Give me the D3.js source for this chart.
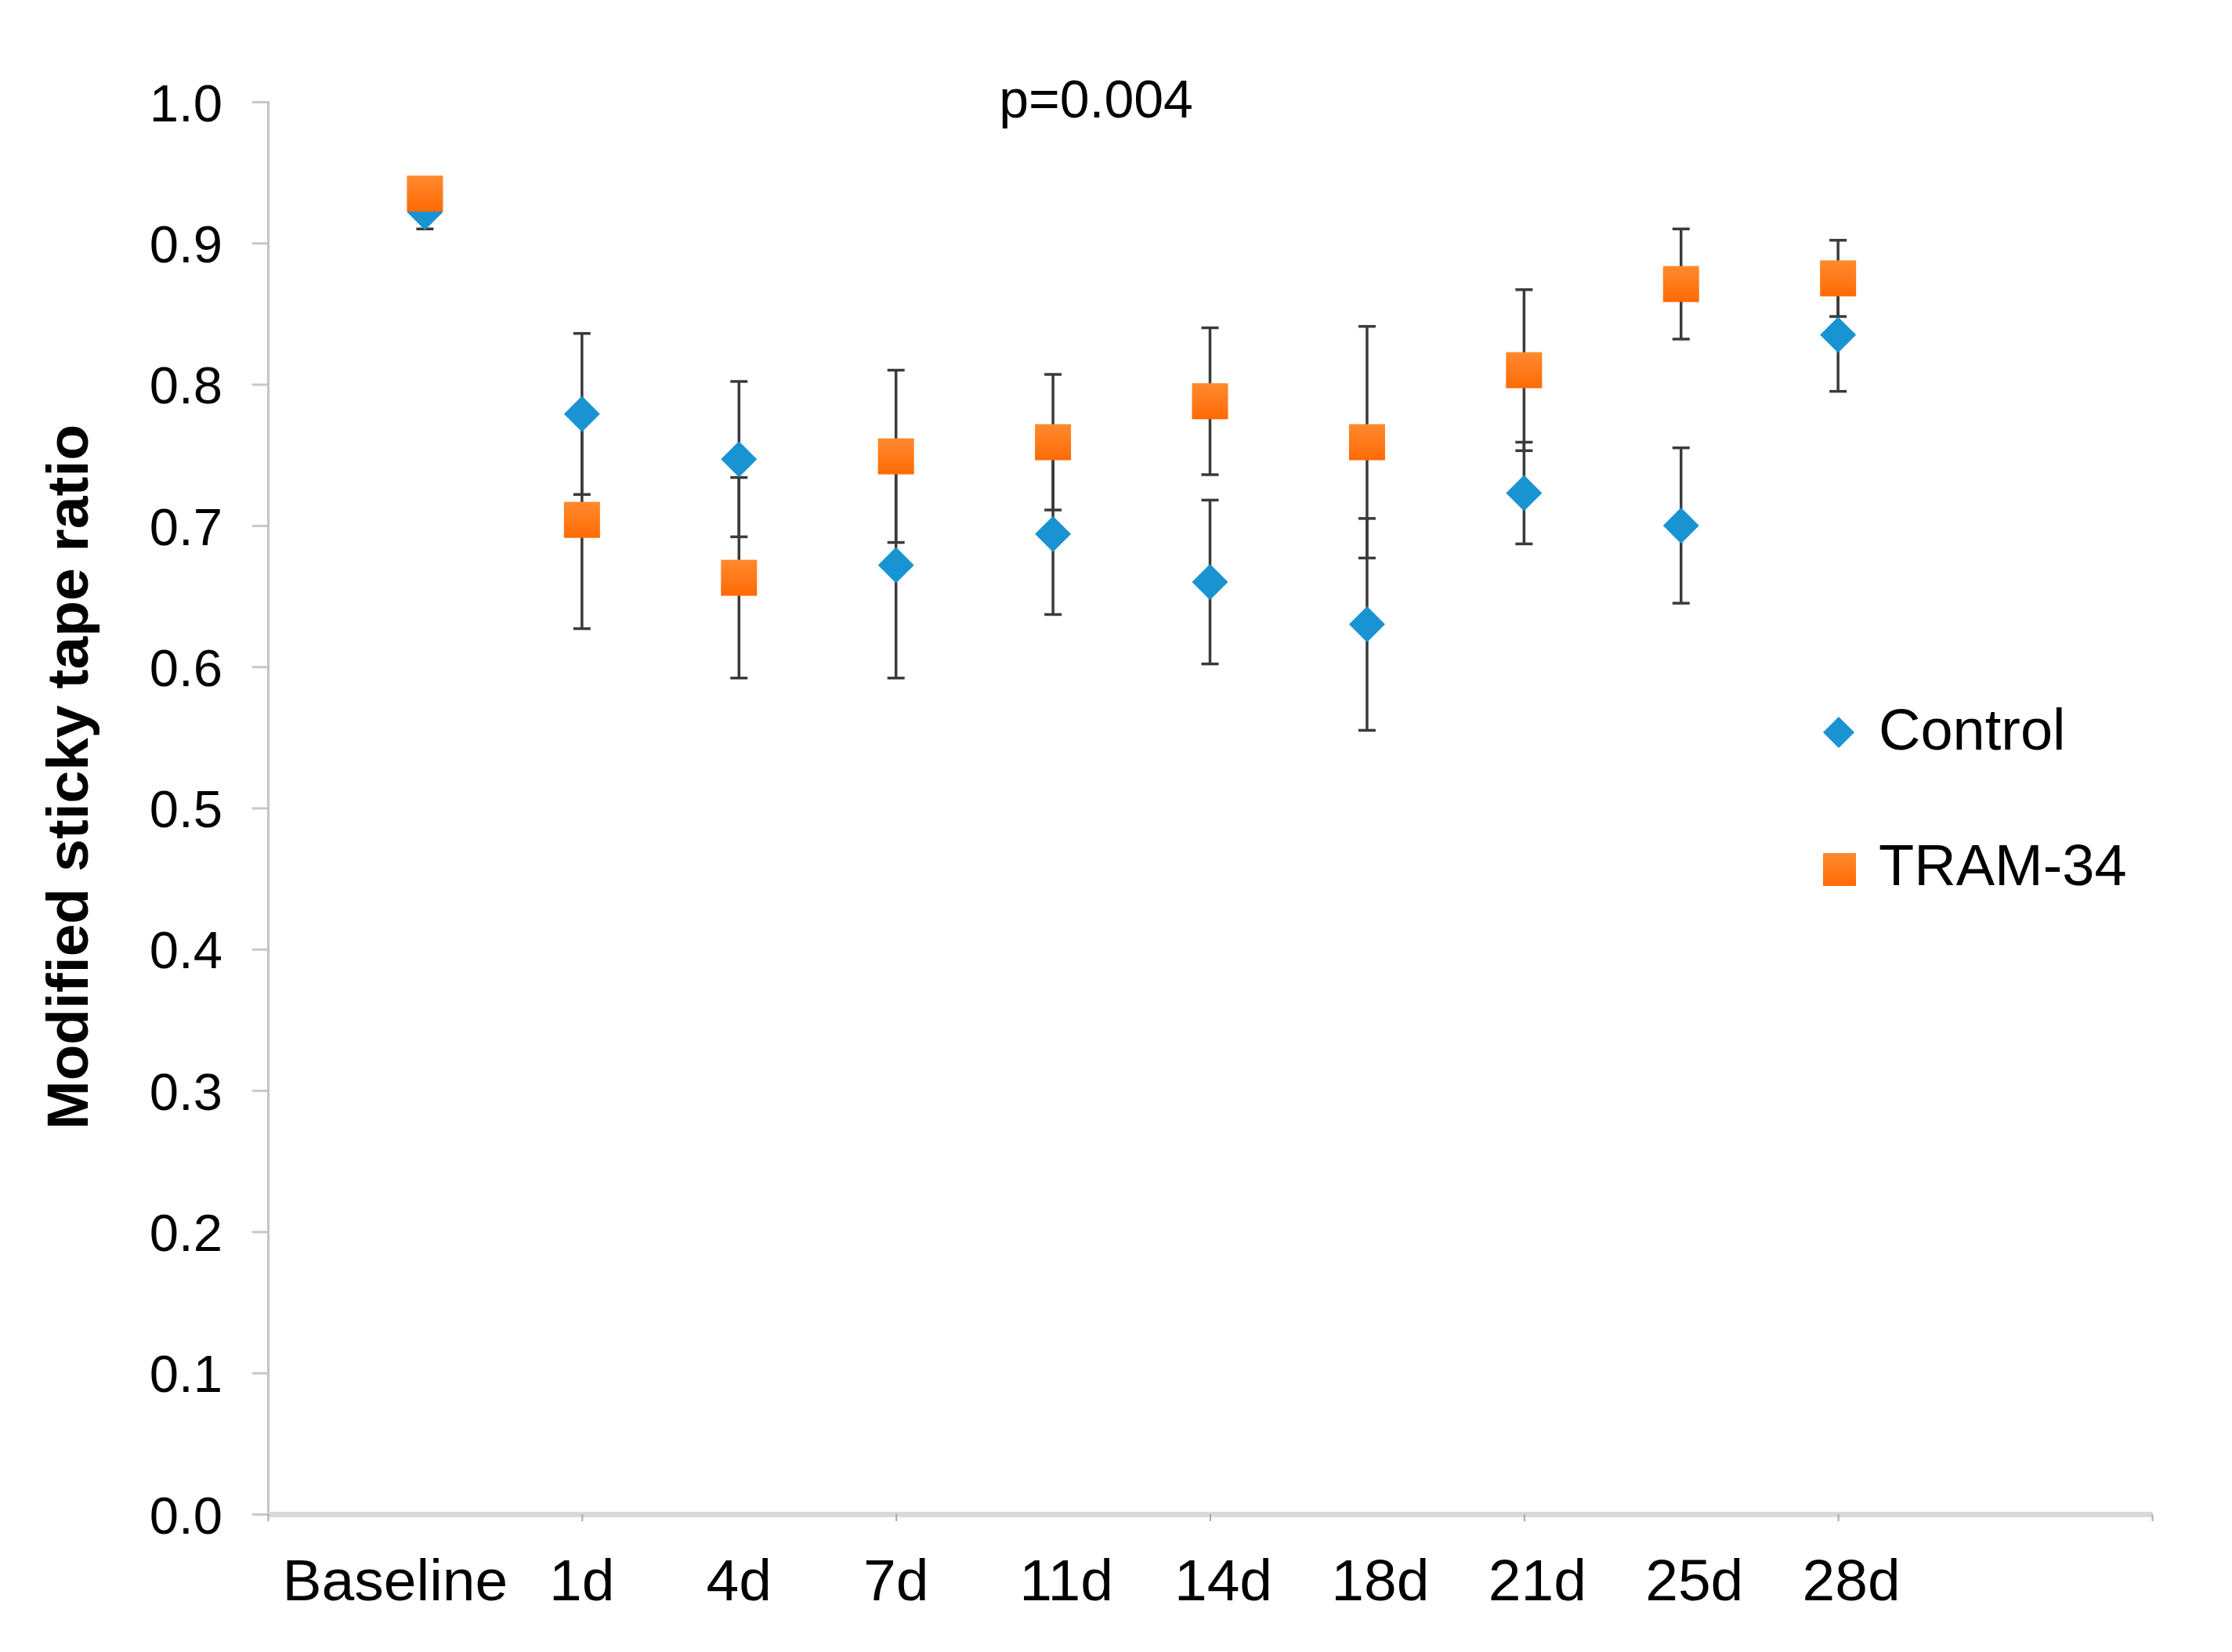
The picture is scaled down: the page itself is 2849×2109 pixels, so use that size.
<!DOCTYPE html>
<html>
<head>
<meta charset="utf-8">
<script src="https://cdn.jsdelivr.net/npm/d3@7"></script>
<style>
  body { margin: 0; background: #fff; }
  text { font-family: "Liberation Sans", Arial, sans-serif; fill: #000; }
</style>
</head>
<body>
<div class="chart"></div>
<script>
// data
const categories = ["Baseline", "1d", "4d", "7d", "11d", "14d", "18d", "21d", "25d", "28d"];
const controlMean = [0.922, 0.779, 0.747, 0.672, 0.694, 0.660, 0.630, 0.723, 0.700, 0.835];
const controlErr  = [0.012, 0.057, 0.055, 0.080, 0.057, 0.058, 0.075, 0.036, 0.055, 0.040];
const tramMean    = [0.935, 0.704, 0.663, 0.749, 0.759, 0.788, 0.759, 0.810, 0.871, 0.875];
const tramErr     = [0.010, 0.077, 0.071, 0.061, 0.048, 0.052, 0.082, 0.057, 0.039, 0.027];
const yTicks = [0, 0.1, 0.2, 0.3, 0.4, 0.5, 0.6, 0.7, 0.8, 0.9, 1.0];
const xTicks = [0, 2, 4, 6, 8, 10, 12];
const seriesNames = ["Control", "TRAM-34"];

let outWidth = 2849, outHeight = 2109;

const svg = d3.select('.chart').append('svg')
	.attr("width", outWidth)
	.attr("height", outHeight);

const defs = svg.append("defs");
const grad = defs.append("linearGradient")
	.attr("id", "orangeGrad")
	.attr("x1", 0).attr("y1", 0).attr("x2", 0).attr("y2", 1);
grad.append("stop").attr("offset", "0%").attr("stop-color", "#ff8a2e");
grad.append("stop").attr("offset", "100%").attr("stop-color", "#ff6a05");

let xScale = d3.scaleLinear().domain([0, 12]).range([342, 2747]);
let yScale = d3.scaleLinear().domain([0, 1]).range([1933, 130]);

const control = categories.map((c, i) => ({cat: c, x: i + 1, y: controlMean[i], e: controlErr[i]}));
const tram = categories.map((c, i) => ({cat: c, x: i + 1, y: tramMean[i], e: tramErr[i]}));

// y axis
const yAxis = svg.append("g")
	.attr("transform", `translate(${xScale(0)},0)`)
	.call(d3.axisLeft(yScale).tickValues(yTicks).tickFormat(d3.format(".1f")).tickSize(20).tickPadding(38));
yAxis.select(".domain").attr("stroke", "#c4c4c4").attr("stroke-width", 3);
yAxis.selectAll(".tick line").attr("stroke", "#c8c8c8").attr("stroke-width", 3);
yAxis.selectAll(".tick text")
	.attr("font-size", 67)
	.attr("font-family", "Liberation Sans, Arial, sans-serif")
	.attr("fill", "#000")
	.attr("dy", "0.36em");

// x axis
const xAxis = svg.append("g")
	.attr("transform", `translate(0,${yScale(0)})`)
	.call(d3.axisBottom(xScale).tickValues(xTicks).tickFormat("").tickSize(9).tickSizeOuter(0));
xAxis.select(".domain").attr("stroke", "#d9d9d9").attr("stroke-width", 7);
xAxis.selectAll(".tick line").attr("stroke", "#a8a8a8").attr("stroke-width", 2);

// category labels (typed as a text run under the axis, so slightly off-centre)
svg.append("g").selectAll("text")
	.data(categories)
	.enter().append("text")
	.attr("x", (d, i) => xScale(i + 1) + (i == 0 ? -38 : d.length > 2 ? 17 : 0))
	.attr("y", 2043)
	.attr("text-anchor", "middle")
	.attr("font-size", 75)
	.text(d => d);

// y title
svg.append("text")
	.attr("transform", `translate(112,992) rotate(-90)`)
	.attr("text-anchor", "middle")
	.attr("font-size", 75)
	.attr("font-weight", "bold")
	.text("Modified sticky tape ratio");

// p value
svg.append("text")
	.attr("x", 1399)
	.attr("y", 150)
	.attr("text-anchor", "middle")
	.attr("font-size", 68)
	.text("p=0.004");

// error bars
function drawErrors(data) {
	const g = svg.append("g").attr("stroke", "#3a3a3a").attr("stroke-width", 3.5);
	g.selectAll(".stem").data(data).enter().append("line")
		.attr("x1", d => xScale(d.x)).attr("x2", d => xScale(d.x))
		.attr("y1", d => yScale(d.y - d.e)).attr("y2", d => yScale(d.y + d.e));
	g.selectAll(".capTop").data(data).enter().append("line")
		.attr("x1", d => xScale(d.x) - 11).attr("x2", d => xScale(d.x) + 11)
		.attr("y1", d => yScale(d.y + d.e)).attr("y2", d => yScale(d.y + d.e));
	g.selectAll(".capBot").data(data).enter().append("line")
		.attr("x1", d => xScale(d.x) - 11).attr("x2", d => xScale(d.x) + 11)
		.attr("y1", d => yScale(d.y - d.e)).attr("y2", d => yScale(d.y - d.e));
}
drawErrors(control);
drawErrors(tram);

const diamond = r => `M0,${-r}L${r},0L0,${r}L${-r},0Z`;

svg.append("g").selectAll("path")
	.data(control)
	.enter().append("path")
	.attr("d", diamond(23))
	.attr("transform", d => `translate(${xScale(d.x)},${yScale(d.y)})`)
	.attr("fill", "#1a93d2");

svg.append("g").selectAll("rect")
	.data(tram)
	.enter().append("rect")
	.attr("x", d => xScale(d.x) - 23)
	.attr("y", d => yScale(d.y) - 23)
	.attr("width", 46)
	.attr("height", 46)
	.attr("fill", "url(#orangeGrad)");

// legend
const legend = svg.append("g");
legend.append("path")
	.attr("d", diamond(20))
	.attr("transform", "translate(2347,935)")
	.attr("fill", "#1a93d2");
legend.append("rect")
	.attr("x", 2327).attr("y", 1089)
	.attr("width", 42).attr("height", 42)
	.attr("fill", "url(#orangeGrad)");
legend.selectAll("text")
	.data(seriesNames)
	.enter().append("text")
	.attr("x", 2398)
	.attr("y", (d, i) => i == 0 ? 957 : 1130)
	.attr("font-size", 74)
	.text(d => d);
</script>
</body>
</html>
